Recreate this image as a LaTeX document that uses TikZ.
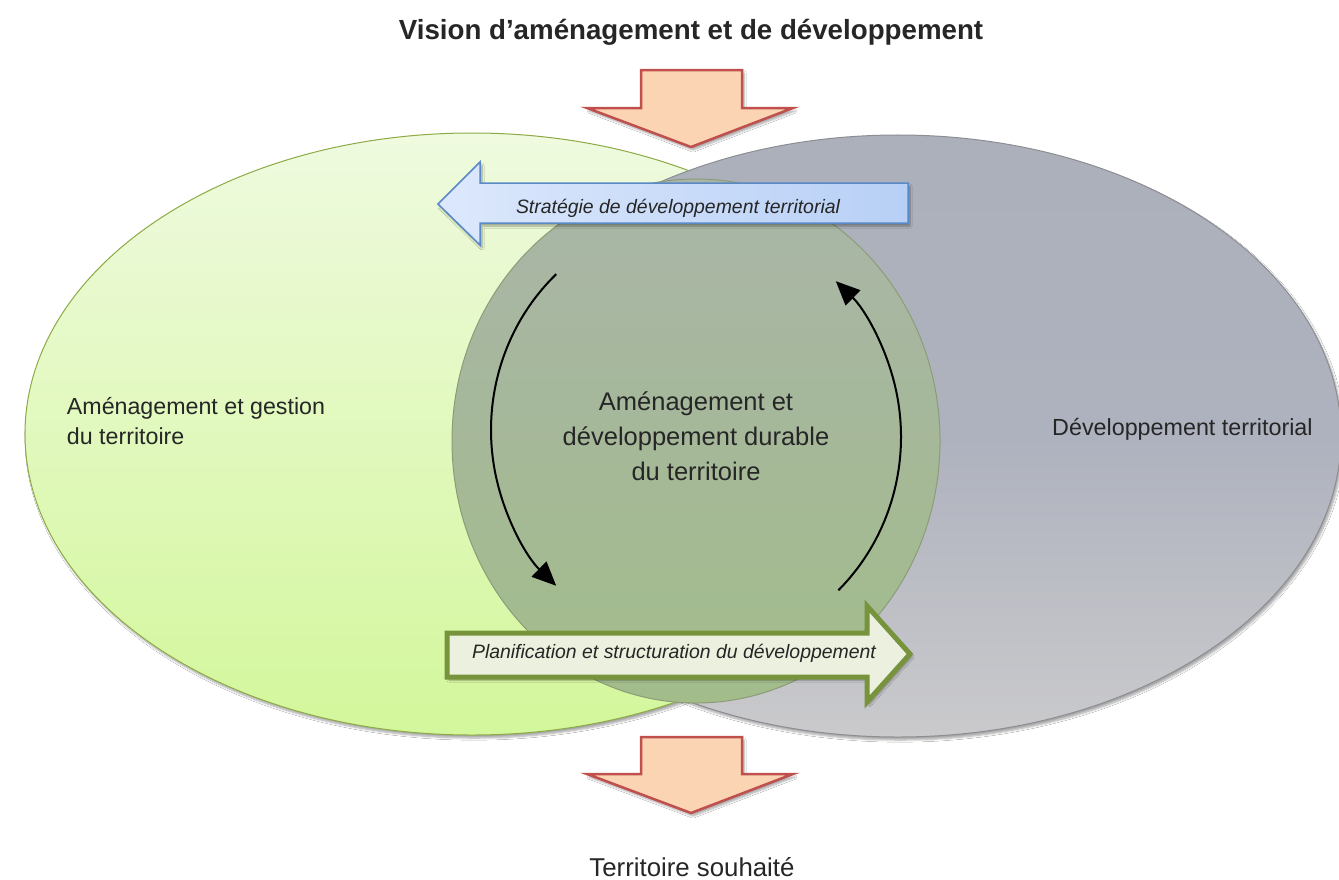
\documentclass[tikz,border=0pt]{standalone}
\usepackage{fontspec}
\setmainfont{Liberation Sans}
\usetikzlibrary{arrows.meta,shadows.blur}
\definecolor{orfill}{HTML}{FBD4B4}
\definecolor{orline}{HTML}{C0504D}
\definecolor{greentop}{HTML}{EFFADF}
\definecolor{greenbot}{HTML}{D3F79B}
\definecolor{greenline}{HTML}{8DAA45}
\definecolor{graytop}{HTML}{ACB0BA}
\definecolor{graymid}{HTML}{AEB2BE}
\definecolor{graybot}{HTML}{CACACC}
\definecolor{grayline}{HTML}{8C8E93}
\definecolor{midtop}{HTML}{A9B5A8}
\definecolor{midbot}{HTML}{A2BC8A}
\definecolor{midline}{HTML}{8D9C78}
\definecolor{bluefillA}{HTML}{DCE8FC}
\definecolor{bluefillB}{HTML}{B8D0F6}
\definecolor{blueline}{HTML}{5A8AC6}
\definecolor{gfill}{HTML}{EBF1DE}
\definecolor{gline}{HTML}{77933C}
\definecolor{txt}{HTML}{262626}
\newcommand\fsz[2]{\fontsize{#1}{#2}\selectfont}
\begin{document}
\begin{tikzpicture}[x=1bp,y=-1bp,
  shad/.style={blur shadow={shadow xshift=2bp,shadow yshift=-3bp,shadow blur steps=6,shadow opacity=35}},
  orangearrow/.style={fill=orfill,draw=orline,line width=2.5bp,line join=miter,shad},
  bluearrow/.style={left color=bluefillA,right color=bluefillB,draw=blueline,line width=1.5bp,line join=miter,shad},
  greenarrow/.style={fill=gfill,draw=gline,line width=5bp,line join=miter,shad},
  cyc/.style={line width=2bp,black,-{Triangle[length=24bp,width=21bp,fill=black]}},
  lbl/.style={text=txt,inner sep=0pt},
  itl/.style={lbl,font=\itshape\fsz{19.5}{23}},
]
\useasboundingbox (0,0) rectangle (1339,879);
\fill[white] (0,0) rectangle (1339,879);
% ellipses
\path[top color=greentop,bottom color=greenbot,draw=greenline,line width=1bp,shad]
  (472,434) ellipse[x radius=447bp,y radius=301bp];
\path[top color=graytop,bottom color=graybot,middle color=graymid,draw=grayline,line width=1bp,shad]
  (898,436) ellipse[x radius=443bp,y radius=301bp];
\path[top color=midtop,bottom color=midbot,draw=midline,line width=1bp]
  (696,441) ellipse[x radius=244bp,y radius=262bp];
% cycle arrows
\coordinate (la) at (556.2,274.2);
\coordinate (lb) at (838.4,590.2);
\draw[cyc] (la) arc[start angle=133,end angle=227,x radius=205bp,y radius=213bp];
\draw[cyc] (lb) arc[start angle=-46,end angle=47,x radius=205bp,y radius=213bp];
% block arrows
\path[orangearrow] (641,70) -- (742,70) -- (742,108) -- (793,108) -- (691,147) -- (587,108) -- (641,108) -- cycle;
\path[orangearrow] (641,737) -- (742,737) -- (742,774) -- (793,774) -- (691,813) -- (587,774) -- (641,774) -- cycle;
\path[bluearrow] (908,183) -- (908,223) -- (480,223) -- (480,245) -- (438,204) -- (480,162) -- (480,183) -- cycle;
\path[greenarrow] (447,633) -- (867,633) -- (867,606) -- (910,654) -- (867,702) -- (867,677) -- (447,677) -- cycle;
% texts
\node[lbl,font=\bfseries\fsz{27.8}{32},anchor=base] (title) at (691,39) {Vision d’aménagement et de développement};
\node[itl,anchor=base] (strat) at (678,213) {Stratégie de développement territorial};
\node[itl,anchor=base] (plan) at (674,658) {Planification et structuration du développement};
\node[lbl,font=\fsz{23.3}{30},align=left,anchor=center] (left) at (196,421) {Aménagement et gestion\\du territoire};
\node[lbl,font=\fsz{25.6}{35},align=center,anchor=center] (mid) at (696,436) {Aménagement et\\développement durable\\du territoire};
\node[lbl,font=\fsz{23.4}{30},anchor=base west] (right) at (1052,435) {Développement territorial};
\node[lbl,font=\fsz{25.9}{30},anchor=base] (bottom) at (692,876) {Territoire souhaité};
\end{tikzpicture}
\end{document}
